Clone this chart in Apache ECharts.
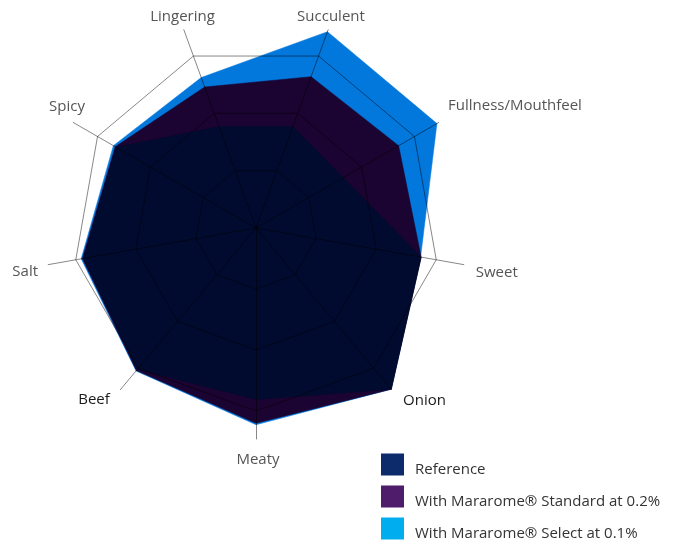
<!DOCTYPE html>
<html>
<head>
<meta charset="utf-8">
<title>Sensory profile</title>
<script src="https://cdn.jsdelivr.net/npm/echarts@6/dist/echarts.min.js"></script>
<style>
  html, body { margin: 0; padding: 0; background: #fff; }
  #chart { width: 678px; height: 542px; }
</style>
</head>
<body>
<div id="chart"></div>
<script>
// attributes, counter-clockwise starting from Succulent
var attributes = ['Succulent', 'Lingering', 'Spicy', 'Salt', 'Beef', 'Meaty', 'Onion', 'Sweet', 'Fullness/Mouthfeel'];
var referenceValues = [3.54, 3.54, 5.3, 5.75, 6.05, 5.62, 6.9, 5.5, 3.3];
var standardValues = [5.28, 4.92, 5.33, 5.78, 6.1, 6.4, 6.9, 5.5, 5.4];
var selectValues = [6.85, 5.25, 5.4, 5.82, 6.12, 6.45, 6.9, 5.48, 6.85];
var seriesNames = ['Reference', 'With Mararome® Standard at 0.2%', 'With Mararome® Select at 0.1%'];
var scaleMax = 6;

var legendColors = ['#0d2b6b', '#4f1b6b', '#00aeef'];
var fillColors = ['#000b2f', '#1b0431', '#0277dc'];
var gridLine = 'rgba(0,0,0,0.47)';
var font = '"Open Sans", "Noto Sans", sans-serif';

// fine placement of the indicator names: [dx, dy]
var nameNudge = {
  'Succulent': [-3, 3], 'Lingering': [4.5, 3], 'Spicy': [8.5, -7.5],
  'Salt': [-6.3, 4.4], 'Beef': [-15.4, -2.6], 'Meaty': [2, 4],
  'Onion': [22, -1.6], 'Sweet': [16.2, 5.2], 'Fullness/Mouthfeel': [61.5, -8]
};
var darkNames = ['Beef', 'Onion'];

var rich = {};
attributes.forEach(function (n, i) {
  var d = nameNudge[n];
  rich['n' + i] = {
    fontFamily: font,
    fontSize: 15,
    color: darkNames.indexOf(n) >= 0 ? '#1a1a1a' : '#555',
    padding: [Math.max(0, 2 * d[1]), Math.max(0, -2 * d[0]), Math.max(0, -2 * d[1]), Math.max(0, 2 * d[0])]
  };
});

var indicators = attributes.map(function (n) {
  return { name: n, min: 0, max: scaleMax };
});

var chart = echarts.init(document.getElementById('chart'));
chart.setOption({
  animation: false,
  legend: {
    orient: 'vertical',
    left: 381,
    top: 452,
    height: 140,
    padding: 0,
    itemWidth: 23,
    itemHeight: 22,
    itemGap: 7,
    icon: 'rect',
    selectedMode: false,
    itemStyle: { borderWidth: 0 },
    data: seriesNames.map(function (n, i) {
      return { name: n, itemStyle: { color: legendColors[i] } };
    }),
    formatter: function (n) { return '{t|' + n + '}'; },
    textStyle: {
      rich: {
        t: { fontFamily: font, fontSize: 15, color: '#333', lineHeight: 12, padding: [10, 0, 0, 6] }
      }
    }
  },
  radar: [{
    center: [256, 228],
    radius: 183,
    startAngle: 70,
    splitNumber: 3,
    shape: 'polygon',
    z: 3,
    indicator: indicators,
    axisName: { show: false },
    axisLine: { show: false },
    splitArea: { show: false },
    splitLine: { lineStyle: { color: gridLine, width: 1 } }
  }, {
    center: [256, 228],
    radius: 211,
    startAngle: 70,
    splitNumber: 1,
    shape: 'polygon',
    z: 3,
    indicator: indicators,
    axisNameGap: 17,
    axisName: {
      align: 'center',
      verticalAlign: 'middle',
      formatter: function (name) {
        return '{n' + attributes.indexOf(name) + '|' + name + '}';
      },
      rich: rich
    },
    axisLine: { lineStyle: { color: gridLine, width: 1 } },
    splitArea: { show: false },
    splitLine: { show: false }
  }],
  series: [{
    type: 'radar',
    radarIndex: 0,
    symbol: 'none',
    silent: true,
    // drawn largest first so the smaller shapes sit on top
    data: [
      { name: seriesNames[2], value: selectValues, itemStyle: { color: fillColors[2] },
        areaStyle: { color: fillColors[2], opacity: 1 }, lineStyle: { color: fillColors[2], width: 0.5 } },
      { name: seriesNames[1], value: standardValues, itemStyle: { color: fillColors[1] },
        areaStyle: { color: fillColors[1], opacity: 1 }, lineStyle: { color: fillColors[1], width: 0.5 } },
      { name: seriesNames[0], value: referenceValues, itemStyle: { color: fillColors[0] },
        areaStyle: { color: fillColors[0], opacity: 1 }, lineStyle: { color: fillColors[0], width: 0.5 } }
    ]
  }]
});
</script>
</body>
</html>
